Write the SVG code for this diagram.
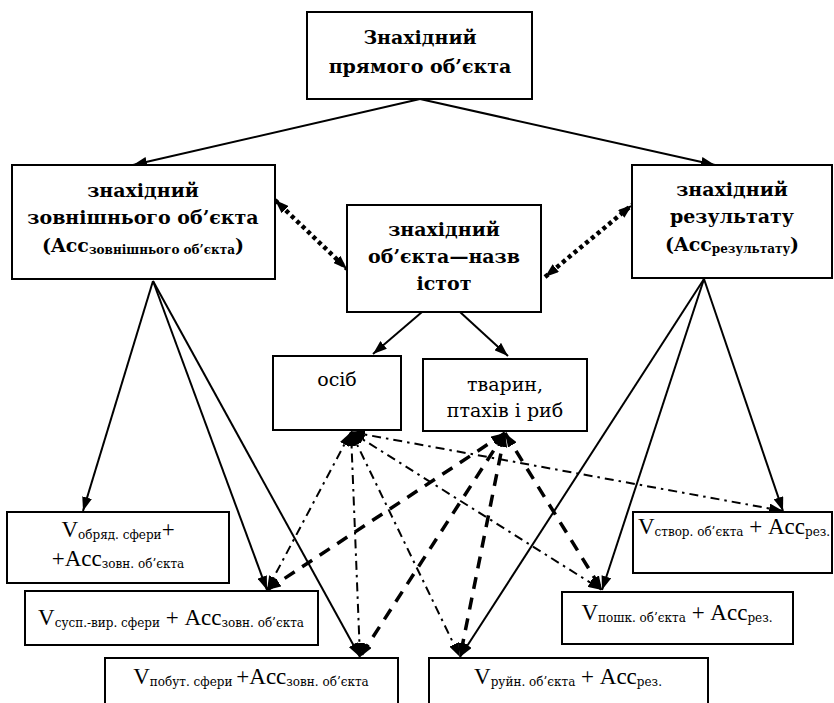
<svg xmlns="http://www.w3.org/2000/svg" width="834" height="703" viewBox="0 0 834 703">
  <style>
    .box { fill: #fff; stroke: #000; stroke-width: 2; }
    .hd { font-family: 'DejaVu Serif', serif; font-weight: bold; font-size: 19px; text-anchor: middle; fill: #000; }
    .tx { font-family: 'DejaVu Serif', serif; font-size: 19px; text-anchor: middle; fill: #000; }
    .lat { font-family: 'Liberation Serif', 'DejaVu Serif', serif; }
    .sub { font-size: 12px; }
    .big { font-size: 23px; }
    .solid { fill: none; stroke: #000; stroke-width: 2; marker-end: url(#arr); }
    .dotted { fill: none; stroke: #000; stroke-width: 4.5; stroke-dasharray: 4 3.5; marker-start: url(#arr); marker-end: url(#arr); }
    .dashdot { fill: none; stroke: #000; stroke-width: 2; stroke-dasharray: 9 5 2.5 5; marker-start: url(#arr); marker-end: url(#arr); }
    .dashed { fill: none; stroke: #000; stroke-width: 3.5; stroke-dasharray: 12 9; marker-start: url(#arr); marker-end: url(#arr); }
  </style>
  <defs>
    <marker id="arr" viewBox="0 0 14 10" refX="14" refY="5" markerWidth="14" markerHeight="10" markerUnits="userSpaceOnUse" orient="auto-start-reverse">
      <path d="M0,0 L14,5 L0,10 z" fill="#000"/>
    </marker>
  </defs>

  <rect width="834" height="703" fill="#fff"/>

  <!-- connectors -->
  <g id="connectors">
    <path class="solid" d="M420,99 L133,165"/>
    <path class="solid" d="M420,99 L715,165"/>
    <path class="solid" d="M422,312 L373,354"/>
    <path class="solid" d="M460,312 L508,356"/>
    <path class="solid" d="M153,281 L83,511"/>
    <path class="solid" d="M153,281 L267,590"/>
    <path class="solid" d="M153,281 L360,657"/>
    <path class="solid" d="M704,279 L783,511"/>
    <path class="solid" d="M704,279 L602,590"/>
    <path class="solid" d="M704,279 L460,657"/>

    <path class="dotted" d="M275,200 L347,269"/>
    <path class="dotted" d="M545,277 L632,205"/>

    <path class="dashdot" d="M351,432 L267,590"/>
    <path class="dashdot" d="M351,432 L360,657"/>
    <path class="dashdot" d="M351,432 L460,657"/>
    <path class="dashdot" d="M351,432 L602,590"/>
    <path class="dashdot" d="M351,432 L783,511"/>

    <path class="dashed" d="M505,433 L267,590"/>
    <path class="dashed" d="M505,433 L360,657"/>
    <path class="dashed" d="M505,433 L460,657"/>
    <path class="dashed" d="M505,433 L602,590"/>
  </g>

  <g id="direct-object">
    <rect class="box" x="307" y="12" width="225" height="87"/>
    <text class="hd" x="420" y="44">Знахідний</text>
    <text class="hd" x="420" y="73">прямого об’єкта</text>
  </g>

  <g id="external-object">
    <rect class="box" x="12" y="165" width="263" height="114"/>
    <text class="hd" x="143" y="197">знахідний</text>
    <text class="hd" x="143" y="224">зовнішнього об’єкта</text>
    <text class="hd" x="143" y="252">(Acc<tspan class="sub" dy="2">зовнішнього об’єкта</tspan><tspan dy="-2">)</tspan></text>
  </g>

  <g id="living-beings">
    <rect class="box" x="347" y="205" width="194" height="107"/>
    <text class="hd" x="444" y="236">знахідний</text>
    <text class="hd" x="444" y="263">об’єкта—назв</text>
    <text class="hd" x="444" y="290">істот</text>
  </g>

  <g id="result">
    <rect class="box" x="632" y="165" width="200" height="113"/>
    <text class="hd" x="732" y="196">знахідний</text>
    <text class="hd" x="732" y="223">результату</text>
    <text class="hd" x="732" y="251">(Acc<tspan class="sub" dy="2">результату</tspan><tspan dy="-2">)</tspan></text>
  </g>

  <g id="persons">
    <rect class="box" x="273" y="356" width="128" height="74"/>
    <text class="tx" x="337" y="386">осіб</text>
  </g>

  <g id="animals">
    <rect class="box" x="423" y="359" width="164" height="72"/>
    <text class="tx" x="505" y="391">тварин,</text>
    <text class="tx" x="505" y="417">птахів і риб</text>
  </g>

  <g id="ritual-sphere">
    <rect class="box" x="7" y="512" width="222" height="71"/>
    <text class="tx" x="118" y="537"><tspan class="big lat">V</tspan><tspan class="sub" dy="2">обряд. сфери</tspan><tspan class="big lat" dy="-2">+</tspan></text>
    <text class="tx" x="118" y="566"><tspan class="big lat">+Acc</tspan><tspan class="sub" dy="2">зовн. об’єкта</tspan></text>
  </g>

  <g id="social-sphere">
    <rect class="box" x="25" y="591" width="293" height="54"/>
    <text class="tx" x="171" y="625"><tspan class="big lat">V</tspan><tspan class="sub" dy="2">сусп.-вир. сфери</tspan><tspan class="big lat" dy="-2"> + Acc</tspan><tspan class="sub" dy="2">зовн. об’єкта</tspan></text>
  </g>

  <g id="household-sphere">
    <rect class="box" x="105" y="658" width="293" height="60"/>
    <text class="tx" x="251" y="684"><tspan class="big lat">V</tspan><tspan class="sub" dy="2">побут. сфери </tspan><tspan class="big lat" dy="-2">+Acc</tspan><tspan class="sub" dy="2">зовн. об’єкта</tspan></text>
  </g>

  <g id="destroy-object">
    <rect class="box" x="429" y="658" width="279" height="60"/>
    <text class="tx" x="568" y="684"><tspan class="big lat">V</tspan><tspan class="sub" dy="2">руйн. об’єкта</tspan><tspan class="big lat" dy="-2"> + Acc</tspan><tspan class="sub" dy="2">рез.</tspan></text>
  </g>

  <g id="damage-object">
    <rect class="box" x="562" y="592" width="231" height="52"/>
    <text class="tx" x="677" y="620"><tspan class="big lat">V</tspan><tspan class="sub" dy="2">пошк. об’єкта</tspan><tspan class="big lat" dy="-2"> + Acc</tspan><tspan class="sub" dy="2">рез.</tspan></text>
  </g>

  <g id="create-object">
    <rect class="box" x="633" y="512" width="199" height="61"/>
    <text class="tx" x="734" y="534"><tspan class="big lat">V</tspan><tspan class="sub" dy="2">створ. об’єкта</tspan><tspan class="big lat" dy="-2"> + Acc</tspan><tspan class="sub" dy="2">рез.</tspan></text>
  </g>
</svg>
